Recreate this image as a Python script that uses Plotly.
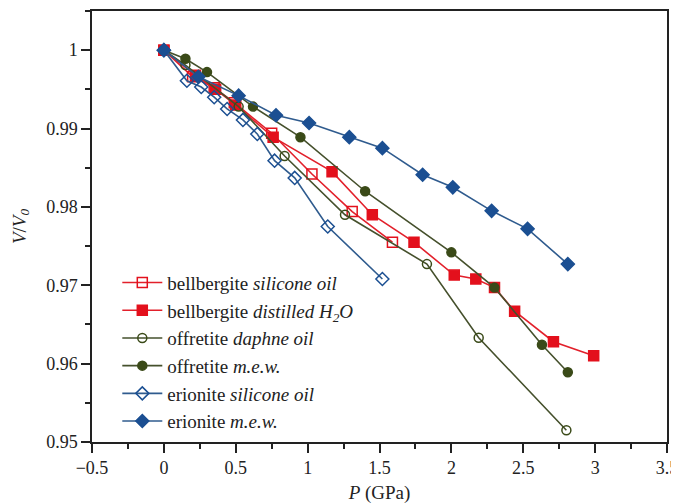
import plotly.graph_objects as go

# ---- data ----
bell_sil_P = [0, 0.20, 0.35, 0.49, 0.75, 1.03, 1.31, 1.59]
bell_sil_V = [1.0, 0.9966, 0.9952, 0.9933, 0.9894, 0.9842, 0.9794, 0.9755]

bell_h2o_P = [0, 0.22, 0.36, 0.50, 0.76, 1.17, 1.45, 1.74, 2.02, 2.17, 2.30, 2.44, 2.71, 2.99]
bell_h2o_V = [1.0, 0.9968, 0.9950, 0.9930, 0.9889, 0.9845, 0.9790, 0.9755, 0.9713, 0.9708, 0.9697, 0.9667, 0.9628, 0.9610]

off_daph_P = [0, 0.15, 0.52, 0.84, 1.26, 1.83, 2.19, 2.80]
off_daph_V = [1.0, 0.9981, 0.9928, 0.9865, 0.9790, 0.9727, 0.9633, 0.9515]

off_mew_P = [0, 0.15, 0.30, 0.62, 0.95, 1.40, 2.00, 2.30, 2.63, 2.81]
off_mew_V = [1.0, 0.9989, 0.9972, 0.9928, 0.9889, 0.9820, 0.9742, 0.9697, 0.9624, 0.9589]

eri_sil_P = [0, 0.16, 0.26, 0.35, 0.44, 0.55, 0.65, 0.77, 0.91, 1.14, 1.52]
eri_sil_V = [1.0, 0.9961, 0.9953, 0.9940, 0.9925, 0.9911, 0.9893, 0.9859, 0.9837, 0.9775, 0.9708]

eri_mew_P = [0, 0.24, 0.52, 0.78, 1.01, 1.29, 1.52, 1.80, 2.01, 2.28, 2.53, 2.81]
eri_mew_V = [1.0, 0.9966, 0.9942, 0.9917, 0.9907, 0.9889, 0.9875, 0.9841, 0.9825, 0.9795, 0.9772, 0.9727]

names = [
    "bellbergite <i>silicone oil</i>",
    "bellbergite <i>distilled H<sub>2</sub>O</i>",
    "offretite <i>daphne oil</i>",
    "offretite <i>m.e.w.</i>",
    "erionite <i>silicone oil</i>",
    "erionite <i>m.e.w.</i>",
]

RED_L, RED_M = "#e2202b", "#e3101c"
GRN_L, GRN_M = "#45502c", "#3a4a18"
BLU_L, BLU_M = "#2f5b8e", "#1b4f92"

series = [
    (bell_sil_P, bell_sil_V, RED_L, RED_M, "square-open", 10),
    (bell_h2o_P, bell_h2o_V, RED_L, RED_M, "square", 10),
    (off_daph_P, off_daph_V, GRN_L, GRN_M, "circle-open", 9),
    (off_mew_P, off_mew_V, GRN_L, GRN_M, "circle", 9),
    (eri_sil_P, eri_sil_V, BLU_L, BLU_M, "diamond-open", 10),
    (eri_mew_P, eri_mew_V, BLU_L, BLU_M, "diamond", 10),
]

fig = go.Figure()
for (xs, ys, lc, mc, sym, sz), nm in zip(series, names):
    fig.add_trace(go.Scatter(
        x=xs, y=ys, name=nm, mode="lines+markers",
        line=dict(color=lc, width=1.6),
        marker=dict(symbol=sym, size=sz, color=mc, line=dict(color=mc, width=1.5)),
    ))

font_fam = "Liberation Serif, Times New Roman, serif"

fig.update_layout(
    width=671, height=496,
    margin=dict(l=84, r=12, t=3, b=62, autoexpand=False),
    paper_bgcolor="white", plot_bgcolor="white",
    font=dict(family=font_fam, size=18, color="#222"),
    showlegend=True,
    legend=dict(
        x=0.044, y=0.003, xanchor="left", yanchor="bottom",
        bgcolor="rgba(0,0,0,0)", font=dict(family=font_fam, size=19, color="#222"),
        itemwidth=40, tracegroupgap=0,
    ),
    xaxis=dict(
        range=[-0.5, 3.5], dtick=0.5, tick0=0, automargin=False,
        showline=True, linecolor="#222", linewidth=1.5, mirror=True,
        ticks="outside", ticklen=9, tickwidth=1.5, tickcolor="#222",
        minor=dict(ticks="outside", dtick=0.25, ticklen=5, tickwidth=1.5, tickcolor="#222"),
        showgrid=False, zeroline=False,
        title=dict(text="<i>P</i> (GPa)", font=dict(size=19)),
        tickfont=dict(size=18),
    ),
    yaxis=dict(
        range=[0.95, 1.005], dtick=0.01, tick0=0.95, automargin=False,
        showline=True, linecolor="#222", linewidth=1.5, mirror=True,
        ticks="outside", ticklen=9, tickwidth=1.5, tickcolor="#222",
        minor=dict(ticks="outside", dtick=0.005, ticklen=5, tickwidth=1.5, tickcolor="#222"),
        showgrid=False, zeroline=False,
        title=dict(text="<i>V</i>/<i>V</i><sub><i>0</i></sub>", font=dict(size=19)),
        tickfont=dict(size=18),
    ),
    xaxis2=dict(
        overlaying="x", matches="x", side="top", range=[-0.5, 3.5], dtick=0.5, tick0=0,
        automargin=False,
        showticklabels=False, ticks="inside", ticklen=10, tickwidth=1.5, tickcolor="#222",
        minor=dict(ticks="inside", dtick=0.25, ticklen=5, tickwidth=1.5, tickcolor="#222"),
        showgrid=False, zeroline=False, showline=False,
    ),
    yaxis2=dict(
        overlaying="y", matches="y", side="right", range=[0.95, 1.005], dtick=0.01, tick0=0.95,
        automargin=False,
        showticklabels=False, ticks="inside", ticklen=10, tickwidth=1.5, tickcolor="#222",
        minor=dict(ticks="inside", dtick=0.005, ticklen=5, tickwidth=1.5, tickcolor="#222"),
        showgrid=False, zeroline=False, showline=False,
    ),
)

fig.write_html("out.html")
